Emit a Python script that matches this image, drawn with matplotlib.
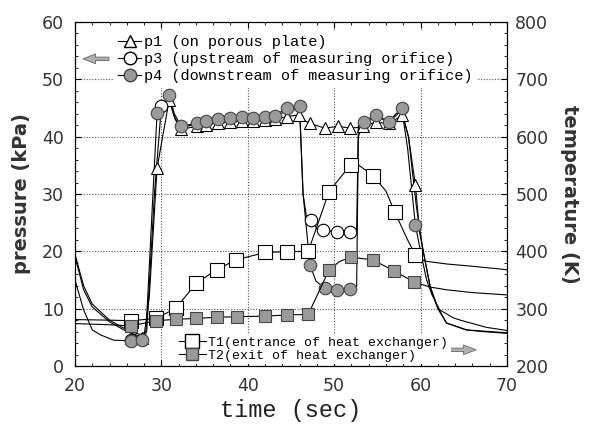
import matplotlib
matplotlib.use("Agg")
import matplotlib.pyplot as plt
from matplotlib.lines import Line2D
from matplotlib.ticker import MultipleLocator

# pressure lines (kPa)
p1_t = [20, 21, 22, 24, 26, 27.5, 28.0, 28.6, 29.5, 30.9, 31.5, 32.3, 34.1, 35.2, 36.6, 37.9, 39.3, 40.6, 42.0, 43.1,
        44.5, 45.9, 46.3, 47.2, 48.9, 50.5, 51.8, 52.7, 53.3, 54.8, 56.4, 57.9, 58.6, 59.4, 59.9, 60.3, 61.1, 61.9,
        63.0, 65.3, 67.2, 70]
p1_v = [19.1, 13.3, 10.3, 7.7, 6.0, 5.2, 5.3, 12.0, 34.5, 46.4, 43.5, 41.3, 41.8, 42.1, 42.4, 42.5, 42.7, 42.7, 42.9,
        43.0, 43.5, 43.8, 43.0, 42.3, 41.5, 41.8, 41.5, 41.6, 41.8, 42.5, 42.3, 43.8, 40.0, 31.6, 23.2, 20.2, 13.8,
        10.5, 7.5, 6.3, 6.0, 5.7]
p1_mt = [26.5, 27.7, 29.5, 30.9, 32.3, 34.1, 35.2, 36.6, 37.9, 39.3, 40.6, 42.0, 43.1, 44.5, 45.9, 47.2, 48.9, 50.5,
         51.8, 53.3, 54.8, 56.4, 57.9, 59.4]
p1_mv = [4.8, 4.8, 34.5, 46.4, 41.3, 41.8, 42.1, 42.4, 42.5, 42.7, 42.7, 42.9, 43.0, 43.5, 43.8, 42.3, 41.5, 41.8,
         41.5, 41.8, 42.5, 42.3, 43.8, 31.6]

p3_t = [20, 21, 22, 24, 26, 27.5, 28.3, 29.2, 30.0, 30.9, 31.6, 32.3, 34.1, 36.6, 39.3, 42.0, 43.1, 44.5, 46.0, 46.4,
        46.8, 47.3, 48.0, 48.7, 50.3, 51.8, 52.6, 52.8, 53.4, 54.9, 56.3, 57.8, 58.6, 59.5, 60.3, 61.1, 62.0, 63.0,
        65.3, 70]
p3_v = [19.5, 14.0, 10.8, 8.0, 6.3, 5.5, 6.0, 30.0, 45.3, 46.6, 43.0, 41.6, 42.2, 42.8, 43.1, 43.2, 43.4, 44.6, 44.8,
        30.0, 26.0, 25.4, 24.0, 23.7, 23.4, 23.4, 23.5, 42.0, 42.5, 43.6, 42.5, 44.6, 40.0, 28.0, 20.0, 14.0, 10.0,
        7.5, 6.3, 5.8]
p3_mt = [26.5, 30.0, 47.3, 48.7, 50.3, 51.8]
p3_mv = [4.5, 45.3, 25.4, 23.7, 23.4, 23.4]

p4_t = [20, 21, 22, 23, 24.5, 26.5, 27.7, 28.2, 29.5, 30.9, 31.5, 32.3, 34.1, 35.2, 36.6, 37.9, 39.3, 40.6, 42.0,
        43.1, 44.5, 46.0, 46.4, 47.2, 47.9, 48.9, 50.3, 51.8, 52.6, 52.8, 53.4, 54.9, 56.3, 57.8, 58.5, 59.4, 60.0,
        60.7, 61.3, 62.2, 63.8, 64.6, 67.6, 70]
p4_v = [15.0, 9.8, 6.3, 5.4, 4.5, 4.4, 4.6, 5.5, 44.1, 47.3, 44.0, 41.8, 42.4, 42.8, 43.1, 43.2, 43.4, 43.3, 43.5,
        43.6, 45.0, 45.3, 30.0, 17.6, 14.8, 13.6, 13.3, 13.4, 13.8, 40.0, 42.6, 43.8, 42.6, 45.0, 38.0, 24.6, 20.0,
        15.0, 12.5, 9.8, 8.4, 8.0, 6.75, 6.2]
p4_mt = [26.5, 27.7, 29.5, 30.9, 32.3, 34.1, 35.2, 36.6, 37.9, 39.3, 40.6, 42.0, 43.1, 44.5, 46.0, 47.2, 48.9, 50.3,
         51.8, 53.4, 54.9, 56.3, 57.8, 59.4]
p4_mv = [4.4, 4.6, 44.1, 47.3, 41.8, 42.4, 42.8, 43.1, 43.2, 43.4, 43.3, 43.5, 43.6, 45.0, 45.3, 17.6, 13.6, 13.3,
         13.4, 42.6, 43.8, 42.6, 45.0, 24.6]

# temperature lines (K)
T1_t = [20, 24, 26.5, 29.4, 31.7, 34.0, 36.4, 38.6, 42.0, 44.5, 47.0, 49.4, 51.9, 52.6, 54.5, 56.0, 57.0, 58.5,
        59.4, 60.5, 63, 66, 70]
T1_v = [281, 280, 279, 283, 301, 344, 368, 385, 398, 399.5, 400, 504, 551, 553, 532, 505, 469, 420, 394, 383, 378,
        374, 368]
T1_mt = [26.5, 29.4, 31.7, 34.0, 36.4, 38.6, 42.0, 44.5, 47.0, 49.4, 51.9, 54.5, 57.0, 59.4]
T1_mv = [279, 283, 301, 344, 368, 385, 398, 399.5, 400, 504, 551, 532, 469, 394]

T2_t = [20, 24, 26.5, 29.4, 31.7, 34.0, 36.4, 38.8, 42.0, 44.5, 47.0, 49.4, 50.6, 51.9, 54.5, 56.9, 59.2, 61, 63,
        66, 70]
T2_v = [274, 272, 270, 279, 281.5, 283, 285, 286, 287, 289, 290, 367.5, 382, 390, 385, 366, 347, 338, 333, 328, 324]
T2_mt = [26.5, 29.4, 31.7, 34.0, 36.4, 38.8, 42.0, 44.5, 47.0, 49.4, 51.9, 54.5, 56.9, 59.2]
T2_mv = [270, 279, 281.5, 283, 285, 286, 287, 289, 290, 367.5, 390, 385, 366, 347]

p_labels = ["p1 (on porous plate)", "p3 (upstream of measuring orifice)", "p4 (downstream of measuring orifice)"]
T_labels = ["T1(entrance of heat exchanger)", "T2(exit of heat exchanger)"]

mono = ["Liberation Mono", "DejaVu Sans Mono"]
gray = "#9a9a9a"
edge = "#444444"

fig = plt.figure(figsize=(5.89, 4.30), dpi=100)
ax = fig.add_axes([0.1273, 0.1488, 0.7334, 0.80])
ax2 = ax.twinx()

lw = 0.8
ax.plot(p1_t, p1_v, color="k", lw=lw)
ax.plot(p3_t, p3_v, color="k", lw=lw)
ax.plot(p4_t, p4_v, color="k", lw=lw)
ax.plot(p1_mt, p1_mv, ls="none", marker="^", ms=8.5, mfc="white", mec="k", mew=0.8)
ax.plot(p3_mt, p3_mv, ls="none", marker="o", ms=9, mfc="white", mec="k", mew=0.8)
ax.plot(p4_mt, p4_mv, ls="none", marker="o", ms=9, mfc=gray, mec=edge, mew=0.8)

ax2.plot(T1_t, T1_v, color="k", lw=lw)
ax2.plot(T2_t, T2_v, color="k", lw=lw)
ax2.plot(T1_mt, T1_mv, ls="none", marker="s", ms=9.5, mfc="white", mec="k", mew=0.8)
ax2.plot(T2_mt, T2_mv, ls="none", marker="s", ms=9, mfc=gray, mec=edge, mew=0.8)

ax.set_xlim(20, 70)
ax.set_ylim(0, 60)
ax2.set_ylim(200, 800)
ax.xaxis.set_major_locator(MultipleLocator(10))
ax.xaxis.set_minor_locator(MultipleLocator(2))
ax.yaxis.set_major_locator(MultipleLocator(10))
ax.yaxis.set_minor_locator(MultipleLocator(2))
ax2.yaxis.set_major_locator(MultipleLocator(100))
ax2.yaxis.set_minor_locator(MultipleLocator(20))

ax.grid(True, which="major", linestyle=(0, (1, 1.5)), color="#555555", lw=0.8)
ax.tick_params(which="both", direction="in", top=True, right=False, labelsize=12.5, labelcolor="#333333", pad=8)
ax.tick_params(which="major", length=4)
ax.tick_params(which="minor", length=2.5)
ax2.tick_params(which="both", direction="in", labelsize=12.5, labelcolor="#333333", pad=6)
ax2.tick_params(which="major", length=4)
ax2.tick_params(which="minor", length=2.5)

ax.set_xlabel("time (sec)", family=mono, fontsize=17, color="#222222", labelpad=3)
ax.set_ylabel("pressure (kPa)", fontsize=14, fontweight="bold", color="#333333", labelpad=8)
ax2.set_ylabel("temperature (K)", fontsize=14, fontweight="bold", color="#333333", rotation=-90, labelpad=22)

h_p = [Line2D([], [], color="k", lw=lw, marker="^", ms=8.5, mfc="white", mec="k"),
       Line2D([], [], color="k", lw=lw, marker="o", ms=9, mfc="white", mec="k"),
       Line2D([], [], color="k", lw=lw, marker="o", ms=9, mfc=gray, mec=edge)]
leg1 = ax2.legend(h_p, p_labels, loc="upper left", bbox_to_anchor=(0.09, 0.975), prop={"family": mono, "size": 11},
                  frameon=True, facecolor="white", edgecolor="none", framealpha=1, handlelength=1.5,
                  handletextpad=0.2, labelspacing=0.2, borderpad=0.3, borderaxespad=0)
ax2.add_artist(leg1)

h_T = [Line2D([], [], color="k", lw=lw, marker="s", ms=9.5, mfc="white", mec="k"),
       Line2D([], [], color="k", lw=lw, marker="s", ms=9, mfc=gray, mec=edge)]
ax2.legend(h_T, T_labels, loc="lower left", bbox_to_anchor=(0.235, 0.005), prop={"family": mono, "size": 9.5},
           frameon=True, facecolor="white", edgecolor="none", framealpha=1, handlelength=2.0,
           handletextpad=0.2, labelspacing=0.05, borderpad=0.2, borderaxespad=0)

arrow = dict(arrowstyle="simple,head_width=0.7,head_length=0.9,tail_width=0.25", fc="#b0b0b0", ec="#666666", lw=0.6)
ax2.annotate("", xy=(0.012, 0.893), xytext=(0.085, 0.893), xycoords="axes fraction", arrowprops=arrow)
ax2.annotate("", xy=(0.935, 0.047), xytext=(0.855, 0.047), xycoords="axes fraction", arrowprops=arrow)

fig.savefig("out.png", dpi=100)
